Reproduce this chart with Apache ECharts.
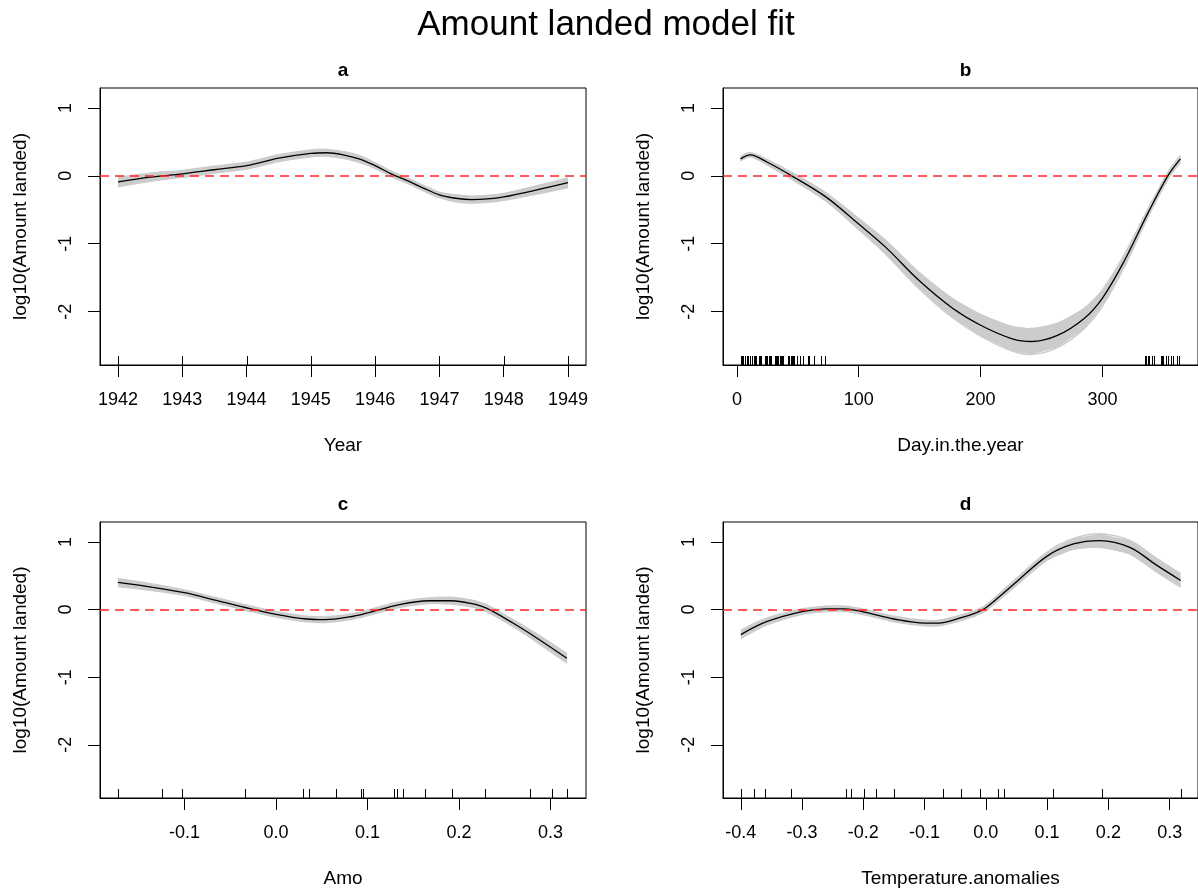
<!DOCTYPE html>
<html>
<head>
<meta charset="utf-8">
<script src="https://cdn.jsdelivr.net/npm/echarts@6/dist/echarts.min.js"></script>
<style>
  html, body { margin: 0; padding: 0; background: #ffffff; }
  #chart { width: 1198px; height: 890px; }
</style>
</head>
<body>
<div id="chart"></div>
<script>
// ---- smooth term a: Year ----
const yearX   = [1942, 1942.5, 1943, 1943.5, 1944, 1944.5, 1945, 1945.25, 1945.5, 1945.75, 1946, 1946.25, 1946.5, 1946.75, 1947, 1947.25, 1947.5, 1947.75, 1948, 1948.5, 1949];
const yearFit = [-0.09, -0.02, 0.03, 0.09, 0.15, 0.26, 0.33, 0.34, 0.31, 0.25, 0.15, 0.03, -0.07, -0.18, -0.28, -0.33, -0.35, -0.34, -0.31, -0.21, -0.10];
const yearSe  = [0.07, 0.06, 0.05, 0.05, 0.05, 0.05, 0.05, 0.05, 0.05, 0.05, 0.04, 0.04, 0.04, 0.04, 0.04, 0.05, 0.05, 0.05, 0.05, 0.06, 0.07];
const yearRug = [1942, 1943, 1944, 1945, 1946, 1947, 1948, 1949];
const yearTicks = [1942, 1943, 1944, 1945, 1946, 1947, 1948, 1949];

// ---- smooth term b: Day.in.the.year ----
const dayX   = [3, 11, 25, 45, 73, 100, 122, 150, 177, 200, 226, 242, 263, 285, 300, 318, 337, 354, 364];
const dayFit = [0.25, 0.31, 0.20, 0.00, -0.31, -0.71, -1.05, -1.55, -1.95, -2.20, -2.40, -2.44, -2.35, -2.10, -1.80, -1.25, -0.56, 0.01, 0.25];
const daySe  = [0.03, 0.03, 0.04, 0.05, 0.06, 0.08, 0.10, 0.12, 0.14, 0.16, 0.18, 0.19, 0.18, 0.15, 0.12, 0.09, 0.06, 0.05, 0.05];
const dayRug = [3, 4, 5, 7, 8, 9, 11, 12, 14, 15, 16, 18, 19, 20, 23, 24, 25, 26, 27, 28, 31, 32, 33, 34, 35, 36, 37, 38, 42, 43, 44, 45, 46, 47, 49, 52, 54, 58, 59, 63, 69, 72,
                335, 336, 337, 338, 341, 342, 348, 349, 350, 352, 354, 356, 358, 361, 363];
const dayTicks = [0, 100, 200, 300];

// ---- smooth term c: Amo ----
const amoX   = [-0.1728, -0.14, -0.1, -0.0665, -0.0335, 0.0, 0.0335, 0.054, 0.08, 0.1, 0.134, 0.167, 0.192, 0.213, 0.23, 0.259, 0.285, 0.318];
const amoFit = [0.40, 0.34, 0.25, 0.14, 0.03, -0.07, -0.14, -0.15, -0.11, -0.05, 0.07, 0.13, 0.13, 0.09, 0.02, -0.20, -0.42, -0.72];
const amoSe  = [0.06, 0.05, 0.04, 0.04, 0.04, 0.04, 0.04, 0.04, 0.04, 0.04, 0.04, 0.04, 0.05, 0.05, 0.05, 0.05, 0.06, 0.07];
const amoRug = [-0.173, -0.125, -0.103, -0.034, 0.030, 0.036, 0.066, 0.093, 0.095, 0.129, 0.132, 0.139, 0.163, 0.192, 0.229, 0.278, 0.302, 0.318];
const amoTicks = [-0.1, 0.0, 0.1, 0.2, 0.3];

// ---- smooth term d: Temperature.anomalies ----
const tempX   = [-0.4, -0.358, -0.3, -0.26, -0.23, -0.2, -0.15, -0.1, -0.077, -0.04, -0.016, 0.0, 0.045, 0.1, 0.143, 0.186, 0.235, 0.278, 0.318];
const tempFit = [-0.37, -0.18, -0.03, 0.01, 0.01, -0.035, -0.14, -0.20, -0.20, -0.12, -0.05, 0.025, 0.37, 0.79, 0.97, 1.02, 0.92, 0.66, 0.43];
const tempSe  = [0.06, 0.05, 0.04, 0.04, 0.04, 0.04, 0.04, 0.04, 0.04, 0.04, 0.04, 0.04, 0.05, 0.06, 0.08, 0.10, 0.10, 0.10, 0.10];
const tempRug = [-0.4, -0.379, -0.36, -0.318, -0.229, -0.22, -0.199, -0.18, -0.15, -0.07, -0.04, -0.01, 0.019, 0.03, 0.109, 0.19, 0.318];
const tempTicks = [-0.4, -0.3, -0.2, -0.1, 0.0, 0.1, 0.2, 0.3];

// shared response axis
const yTicks = [-2, -1, 0, 1];
const yName = 'log10(Amount landed)';

const FONT = '"Liberation Sans", Arial, Helvetica, sans-serif';
const Y_MIN = -2.786, Y_MAX = 1.294;
const SMOOTH = 0.35;

const panels = [
  { key: 'a', name: 'Year', x: yearX, fit: yearFit, se: yearSe, rug: yearRug, ticks: yearTicks,
    min: 1941.72, max: 1949.28, fmt: v => String(v),
    grid: { left: 100, top: 88, width: 486, height: 277 } },
  { key: 'b', name: 'Day.in.the.year', x: dayX, fit: dayFit, se: daySe, rug: dayRug, ticks: dayTicks,
    min: -11.4, max: 378.4, fmt: v => String(v),
    grid: { left: 723, top: 88, width: 485, height: 277 } },
  { key: 'c', name: 'Amo', x: amoX, fit: amoFit, se: amoSe, rug: amoRug, ticks: amoTicks,
    min: -0.1923, max: 0.3389, fmt: v => v.toFixed(1),
    grid: { left: 100, top: 522, width: 486, height: 276 } },
  { key: 'd', name: 'Temperature.anomalies', x: tempX, fit: tempFit, se: tempSe, rug: tempRug, ticks: tempTicks,
    min: -0.4291, max: 0.3463, fmt: v => v.toFixed(1),
    grid: { left: 723, top: 522, width: 485, height: 276 } }
];

const grids = [], xAxes = [], yAxes = [], series = [];
const titles = [{
  text: 'Amount landed model fit', left: 606, top: 8, textAlign: 'center', padding: 0,
  textStyle: { fontFamily: FONT, fontSize: 35, fontWeight: 'normal', color: '#000' }
}];

panels.forEach((p, i) => {
  grids.push(Object.assign({ show: true, borderColor: '#000', borderWidth: 1, backgroundColor: 'transparent', containLabel: false }, p.grid));

  titles.push({
    text: p.key, left: p.grid.left + p.grid.width / 2, top: p.grid.top - 27, textAlign: 'center', padding: 0,
    textStyle: { fontFamily: FONT, fontSize: 19, fontWeight: 'bold', color: '#000' }
  });

  xAxes.push({
    type: 'value', gridIndex: i, min: p.min, max: p.max,
    name: p.name, nameLocation: 'middle', nameGap: 71,
    nameTextStyle: { fontFamily: FONT, fontSize: 19, color: '#000' },
    axisLine: { show: true, onZero: false, lineStyle: { color: '#000', width: 1 } },
    axisTick: { show: true, length: 12, customValues: p.ticks, lineStyle: { color: '#000', width: 1 } },
    axisLabel: { show: true, customValues: p.ticks, formatter: p.fmt, margin: 26, hideOverlap: false,
                 fontFamily: FONT, fontSize: 18, color: '#000' },
    splitLine: { show: false }
  });

  yAxes.push({
    type: 'value', gridIndex: i, min: Y_MIN, max: Y_MAX,
    name: yName, nameLocation: 'middle', nameGap: 70, nameRotate: 90,
    nameTextStyle: { fontFamily: FONT, fontSize: 19, color: '#000' },
    axisLine: { show: true, onZero: false, lineStyle: { color: '#000', width: 1 } },
    axisTick: { show: true, length: 12, customValues: yTicks, lineStyle: { color: '#000', width: 1 } },
    axisLabel: { show: true, customValues: yTicks, rotate: 90, formatter: v => String(v), margin: 25, hideOverlap: false,
                 fontFamily: FONT, fontSize: 18, color: '#000' },
    splitLine: { show: false }
  });

  // confidence band (fit ± se) as one filled shape placed through the axis scales
  const bandRows = p.x.map((x, k) => [x, p.fit[k] - p.se[k], p.fit[k] + p.se[k]]);
  series.push({
    type: 'custom', xAxisIndex: i, yAxisIndex: i, silent: true, z: 1,
    data: [bandRows[0]],
    encode: { x: 0, y: [1, 2] },
    renderItem: (params, api) => {
      const upper = bandRows.map(r => api.coord([r[0], r[2]]));
      const lower = bandRows.map(r => api.coord([r[0], r[1]])).reverse();
      return {
        type: 'group',
        children: [
          { type: 'polyline', shape: { points: upper, smooth: SMOOTH }, style: { stroke: '#cccccc', lineWidth: 1.5, fill: null } },
          { type: 'polyline', shape: { points: lower, smooth: SMOOTH }, style: { stroke: '#cccccc', lineWidth: 1.5, fill: null } },
          { type: 'polygon', shape: { points: upper.concat(lower), smooth: 0 }, style: { fill: '#cccccc', stroke: null } }
        ]
      };
    }
  });

  // fitted smooth and zero reference line
  series.push({
    type: 'line', xAxisIndex: i, yAxisIndex: i, data: p.x.map((x, k) => [x, p.fit[k]]),
    smooth: SMOOTH, symbol: 'none',
    lineStyle: { color: '#000', width: 1.3 }, silent: true, z: 3,
    markLine: {
      silent: true, symbol: ['none', 'none'], label: { show: false },
      lineStyle: { color: '#ff2626', type: [9, 6], width: 1.5 },
      data: [{ yAxis: 0 }]
    }
  });

  // rug of observed covariate values along the bottom of the panel
  series.push({
    type: 'custom', xAxisIndex: i, yAxisIndex: i, silent: true, clip: false, z: 4,
    data: p.rug.map(v => [v, Y_MIN]),
    renderItem: (params, api) => {
      const pt = api.coord([api.value(0), api.value(1)]);
      const x = Math.round(pt[0]) + 0.5;
      return { type: 'line', shape: { x1: x, y1: pt[1], x2: x, y2: pt[1] - 9 },
               style: { stroke: '#000', lineWidth: 1 } };
    }
  });
});

const chart = echarts.init(document.getElementById('chart'), null, { renderer: 'canvas' });
chart.setOption({
  backgroundColor: '#ffffff',
  animation: false,
  title: titles,
  grid: grids,
  xAxis: xAxes,
  yAxis: yAxes,
  series: series
});
</script>
</body>
</html>
